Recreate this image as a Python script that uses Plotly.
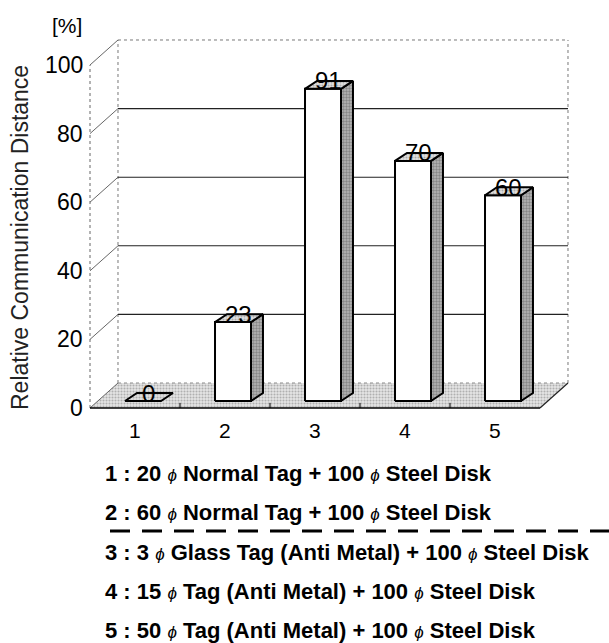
import plotly.graph_objects as go

# ---- data -------------------------------------------------------------
categories = [1, 2, 3, 4, 5]
category_labels = ["1", "2", "3", "4", "5"]
values = [0, 23, 91, 70, 60]
value_labels = ["0", "23", "91", "70", "60"]
y_ticks = [0, 20, 40, 60, 80, 100]
y_tick_labels = ["0", "20", "40", "60", "80", "100"]
grid_values = [20, 40, 60, 80]
descriptions = [
    "20 ϕ Normal Tag + 100 ϕ Steel Disk",
    "60 ϕ Normal Tag + 100 ϕ Steel Disk",
    "3 ϕ Glass Tag (Anti Metal) + 100 ϕ Steel Disk",
    "15 ϕ Tag (Anti Metal) + 100 ϕ Steel Disk",
    "50 ϕ Tag (Anti Metal) + 100 ϕ Steel Disk",
]

# ---- pseudo-3D geometry (data units) ----------------------------------
W, H = 609, 643
X_MIN, X_MAX = -0.5, 6.2667
Y_MIN, Y_MAX = -68.51, 118.95
DXW, DYW = 0.311, 7.29          # depth of the back wall
BX0, BY0 = 0.089, 2.04          # bar front offset from the floor edge
BDX, BDY = 0.133, 2.33          # bar depth
HALF = 0.2                      # half bar width
XL, XR = categories[0] - 0.5, categories[-1] + 0.5
YTOP = y_ticks[-1]

FONT = "Liberation Sans, Arial, Helvetica, sans-serif"
fig = go.Figure()


def poly(xs, ys, fill, pattern=None, line_w=2, line_color="black"):
    kw = dict(x=xs + [xs[0]], y=ys + [ys[0]], mode="lines", fill="toself",
              fillcolor=fill, line=dict(color=line_color, width=line_w),
              hoverinfo="skip", showlegend=False)
    if pattern:
        kw["fillpattern"] = pattern
    fig.add_trace(go.Scatter(**kw))


def seg(xs, ys, color="black", width=1, dash="solid"):
    fig.add_trace(go.Scatter(x=xs, y=ys, mode="lines",
                             line=dict(color=color, width=width, dash=dash),
                             hoverinfo="skip", showlegend=False))


speckle_floor = dict(shape=".", bgcolor="#e6e6e6", fgcolor="#7a7a7a", size=3, solidity=0.4)
speckle_side = dict(shape=".", bgcolor="#b8b8b8", fgcolor="#555555", size=3, solidity=0.5)
speckle_top = dict(shape=".", bgcolor="#e2e2e2", fgcolor="#777777", size=3, solidity=0.4)

# floor
poly([XL, XR, XR + DXW, XL + DXW], [0, 0, DYW, DYW], "#dcdcdc", speckle_floor,
     line_w=0.01, line_color="rgba(0,0,0,0)")

# back wall frame (dotted)
seg([XL + DXW, XL + DXW], [DYW, YTOP + DYW], "#777", 1, "dot")
seg([XR + DXW, XR + DXW], [DYW, YTOP + DYW], "#777", 1, "dot")
seg([XL + DXW, XR + DXW], [YTOP + DYW, YTOP + DYW], "#777", 1, "dot")
seg([XL + DXW, XR + DXW], [DYW, DYW], "#888", 1, "dot")

# gridlines on the back wall
for v in grid_values:
    seg([XL + DXW, XR + DXW], [v + DYW, v + DYW], "#222", 1.1)

# diagonals from the front axis to the back wall
for v in y_ticks:
    seg([XL, XL + DXW], [v, v + DYW], "#555", 0.9)

# front vertical axis
seg([XL, XL], [0, YTOP], "#666", 1, "dot")

# floor front and right edges
seg([XL, XR], [0, 0], "black", 1.6)
seg([XR, XR + DXW], [0, DYW], "#222", 1.2)
for c in categories[:-1]:
    seg([c + 0.5, c + 0.5], [0, 1.5], "black", 1)

# bars
for c, v in zip(categories, values):
    xl, xr = c - HALF + BX0, c + HALF + BX0
    yb, yt = BY0, BY0 + v
    if v > 0:
        poly([xr, xr + BDX, xr + BDX, xr], [yb, yb + BDY, yt + BDY, yt], "#a8a8a8", speckle_side)
        poly([xl, xr, xr, xl], [yb, yb, yt, yt], "white")
    poly([xl, xr, xr + BDX, xl + BDX], [yt, yt, yt + BDY, yt + BDY], "#d6d6d6", speckle_top)

annotations = []

# value labels on bar tops
for c, v, t in zip(categories, values, value_labels):
    annotations.append(dict(x=c + BX0 + BDX / 2, y=BY0 + v + BDY, text=t, showarrow=False,
                            xanchor="center", yanchor="middle",
                            font=dict(family=FONT, size=24, color="black")))

# y tick labels
for v, t in zip(y_ticks, y_tick_labels):
    annotations.append(dict(x=XL - 0.06, y=v, text=t, showarrow=False,
                            xanchor="right", yanchor="middle",
                            font=dict(family=FONT, size=23, color="black")))

# x tick labels
for c, t in zip(categories, category_labels):
    annotations.append(dict(x=c, y=-6.6, text=t, showarrow=False,
                            xanchor="center", yanchor="middle",
                            font=dict(family=FONT, size=21, color="black")))

# unit and axis title
annotations.append(dict(x=67 / W, y=1 - 25 / H, xref="paper", yref="paper", text="[%]",
                        showarrow=False, xanchor="center", yanchor="middle",
                        font=dict(family=FONT, size=21, color="black")))
annotations.append(dict(x=20 / W, y=1 - 238 / H, xref="paper", yref="paper",
                        text="Relative Communication Distance", textangle=-90,
                        showarrow=False, xanchor="center", yanchor="middle",
                        font=dict(family=FONT, size=23, color="#222")))

# description list below the chart
row_y = [473, 512, 552, 591, 630]
for c, d, py in zip(category_labels, descriptions, row_y):
    txt = d.replace("ϕ", "<span style='font-size:17px;font-weight:normal;font-style:italic'>ϕ</span>")
    annotations.append(dict(x=103 / W, y=1 - py / H, xref="paper", yref="paper",
                            text=f"<b>{c} : {txt}</b>", showarrow=False,
                            xanchor="left", yanchor="middle",
                            font=dict(family=FONT, size=22, color="black")))

shapes = [dict(type="line", xref="paper", yref="paper",
               x0=110 / W, x1=1.0, y0=1 - 531 / H, y1=1 - 531 / H,
               line=dict(color="black", width=3, dash="20px,12px"))]

fig.update_layout(
    width=W, height=H,
    margin=dict(l=0, r=0, t=0, b=0),
    paper_bgcolor="white", plot_bgcolor="white",
    xaxis=dict(range=[X_MIN, X_MAX], visible=False, fixedrange=True),
    yaxis=dict(range=[Y_MIN, Y_MAX], visible=False, fixedrange=True),
    annotations=annotations,
    shapes=shapes,
    showlegend=False,
)

fig.write_html("out.html")
